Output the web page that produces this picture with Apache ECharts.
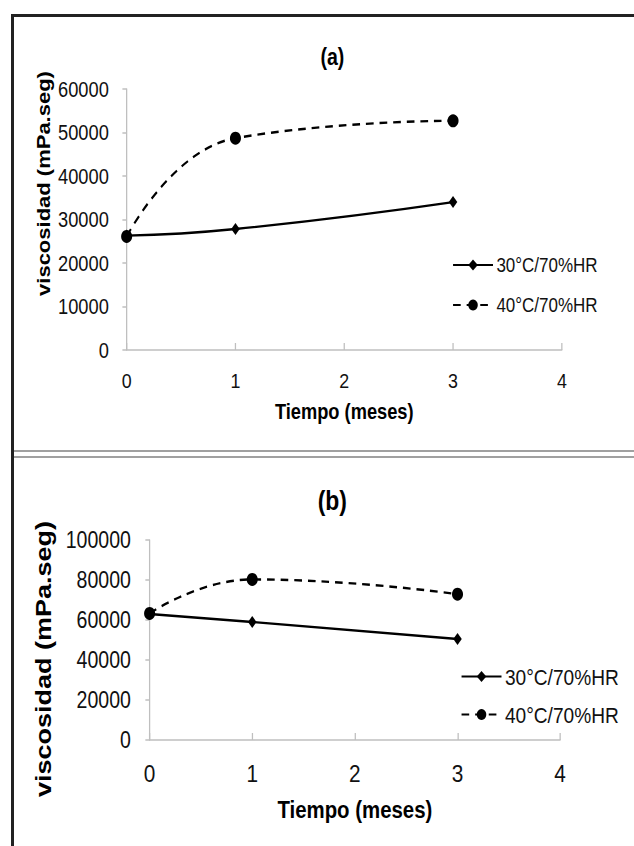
<!DOCTYPE html>
<html>
<head>
<meta charset="utf-8">
<script src="https://cdn.jsdelivr.net/npm/echarts@6/dist/echarts.min.js"></script>
<style>
  body { margin: 0; background: #fff; }
  #wrap { position: relative; width: 634px; height: 846px; overflow: hidden; }
  .frame { position: absolute; left: 11px; top: 14px; width: 640px; height: 900px;
           border-top: 3px solid #222; border-left: 3px solid #222; }
  .sep { position: absolute; left: 14px; top: 450px; width: 640px; height: 4px;
         border-top: 2px solid #a0a0a0; border-bottom: 2px solid #a0a0a0; }
  /* the source figure is squeezed horizontally, so the chart is drawn wider and scaled */
  #main { position: absolute; left: 0; top: 0; width: 746px; height: 846px;
          transform: scaleX(0.85); transform-origin: 0 0; }
</style>
</head>
<body>
<div id="wrap">
  <div class="frame"></div>
  <div class="sep"></div>
  <div id="main"></div>
</div>
<script>
// tiempo en meses
let meses = [0, 1, 3]
let xTicks = [0, 1, 2, 3, 4]
// (a)
let viscA30 = [26300, 27800, 34000]
let viscA40 = [26100, 48700, 52700]
// (b)
let viscB30 = [63000, 59000, 50500]
let viscB40 = [63300, 80300, 72900]
let seriesNames = ['30°C/70%HR', '40°C/70%HR']

const font = "'Liberation Sans', Arial, sans-serif"
const axisColor = '#bfbfbf'
const txt = '#111'

function pares(vals) {
    return meses.map((m, i) => [m, vals[i]])
}

function ejeX(idx, fs, nameFs, nameGap, margin) {
    return {
        type: 'value', gridIndex: idx, min: xTicks[0], max: xTicks[xTicks.length - 1], interval: 1,
        name: 'Tiempo (meses)', nameLocation: 'middle', nameGap: nameGap, nameMoveOverlap: false,
        nameTextStyle: { fontFamily: font, fontWeight: 'bold', fontSize: nameFs, color: '#000' },
        axisLine: { lineStyle: { color: axisColor, width: 1.5 } },
        axisTick: { inside: true, length: 7, lineStyle: { color: axisColor, width: 1.5 } },
        axisLabel: { fontFamily: font, fontSize: fs, color: txt, margin: margin },
        splitLine: { show: false }
    }
}

function ejeY(idx, max, step, fs, nameFs, nameGap, pad, margin) {
    return {
        type: 'value', gridIndex: idx, min: 0, max: max, interval: step,
        name: 'viscosidad (mPa.seg)', nameLocation: 'middle', nameGap: nameGap, nameMoveOverlap: false,
        nameTextStyle: { fontFamily: font, fontWeight: 'bold', fontSize: nameFs, color: '#000', padding: pad },
        axisLine: { show: true, lineStyle: { color: axisColor, width: 1.5 } },
        axisTick: { show: true, length: 5, lineStyle: { color: axisColor, width: 1.5 } },
        axisLabel: { fontFamily: font, fontSize: fs, color: txt, margin: margin, formatter: v => String(v) },
        splitLine: { show: false }
    }
}

function serie(name, idx, vals, dashed) {
    return {
        name: name, type: 'line', xAxisIndex: idx, yAxisIndex: idx, smooth: true,
        data: pares(vals),
        symbol: dashed ? 'circle' : 'diamond',
        symbolSize: dashed ? 13 : [10, 12],
        itemStyle: { color: '#000' },
        lineStyle: { color: '#000', width: 2.4, type: dashed ? [9, 7] : 'solid' }
    }
}

function leyenda(left, top, gap, fs) {
    return {
        orient: 'vertical', left: left, top: top, padding: 0, itemGap: gap,
        itemWidth: 47, itemHeight: 14, data: seriesNames,
        textStyle: { fontFamily: font, fontSize: fs, color: txt, padding: [0, 0, 0, -1] }
    }
}

let myChart = echarts.init(document.getElementById('main'), null, { renderer: 'svg' })
myChart.setOption({
    animation: false,
    title: [
        { text: '(a)', left: 386, top: 41, textAlign: 'center',
          textStyle: { fontFamily: font, fontWeight: 'bold', fontSize: 23, color: '#000' } },
        { text: '(b)', left: 386, top: 482, textAlign: 'center',
          textStyle: { fontFamily: font, fontWeight: 'bold', fontSize: 27, color: '#000' } }
    ],
    legend: [
        leyenda(532, 255, 20, 20),
        leyenda(542, 665, 15, 22.5)
    ],
    grid: [
        { left: 149, top: 89, width: 512, height: 261 },
        { left: 176, top: 540, width: 483, height: 200 }
    ],
    xAxis: [ejeX(0, 21, 21.5, 50, 20), ejeX(1, 24.5, 24, 58, 21)],
    yAxis: [
        ejeY(0, 60000, 10000, 21.5, 22, 87, [0, 0, 0, 72], 21),
        ejeY(1, 100000, 20000, 23, 27, 112, [0, 38, 0, 0], 22)
    ],
    series: [
        serie(seriesNames[0], 0, viscA30, false),
        serie(seriesNames[1], 0, viscA40, true),
        serie(seriesNames[0], 1, viscB30, false),
        serie(seriesNames[1], 1, viscB40, true)
    ]
})
window.onresize = function () {
    myChart.resize()
}
</script>
</body>
</html>
